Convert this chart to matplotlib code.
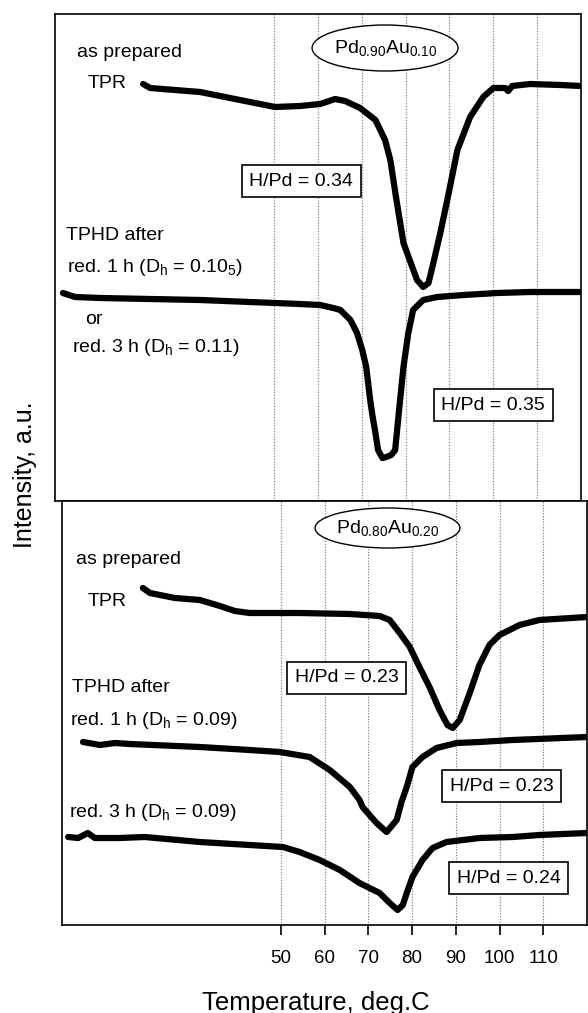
import numpy as np
import matplotlib.pyplot as plt
from matplotlib.patches import Ellipse

plt.rcParams['font.family'] = ['Liberation Sans', 'DejaVu Sans']
plt.rcParams['mathtext.fontset'] = 'custom'
plt.rcParams['mathtext.rm'] = 'Liberation Sans'
plt.rcParams['mathtext.it'] = 'Liberation Sans:italic'

# Pd0.90Au0.10 : TPR of the as-prepared sample
t_tpr_10 = [20.1, 21.7, 33.1, 42.2, 50.2, 55.9, 60.5, 63.9, 66.2, 69.6, 73.1, 75.3, 76.5, 77.2,
            77.9, 79.5, 81.5, 82.6, 84.0, 85.2, 86.1, 87.9, 89.5, 91.8, 94.7, 97.7, 100.0,
            102.7, 103.4, 104.3, 108.4, 115.3, 120.0]
i_tpr_10 = [4.17, 4.13, 4.09, 4.01, 3.94, 3.95, 3.97, 4.02, 4.00, 3.93, 3.81, 3.61, 3.41, 3.21,
            3.01, 2.58, 2.34, 2.21, 2.14, 2.18, 2.34, 2.68, 3.01, 3.51, 3.84, 4.04, 4.13,
            4.13, 4.10, 4.15, 4.17, 4.16, 4.15]

# Pd0.90Au0.10 : TPHD after reduction
t_tphd_10 = [1.8, 4.6, 10.3, 21.7, 33.1, 44.5, 50.2, 55.9, 60.5, 63.5, 65.1, 67.4, 68.9, 70.1,
             71.0, 71.9, 72.4, 73.1, 73.7, 74.7, 75.6, 76.7, 77.6, 78.5, 79.5, 80.6, 81.7,
             84.0, 87.2, 93.2, 100.9, 108.4, 120.0]
i_tphd_10 = [2.08, 2.04, 2.03, 2.02, 2.01, 1.99, 1.98, 1.97, 1.96, 1.93, 1.91, 1.81, 1.68, 1.51,
             1.34, 1.01, 0.86, 0.68, 0.51, 0.43, 0.44, 0.46, 0.51, 0.91, 1.34, 1.68, 1.91,
             2.01, 2.04, 2.06, 2.08, 2.09, 2.09]

# Pd0.80Au0.20 : TPR of the as-prepared sample
t_tpr_20 = [18.5, 20.1, 25.8, 31.5, 36.1, 39.5, 42.9, 54.3, 65.8, 72.6, 74.9, 77.2, 79.5, 81.7,
            84.0, 86.3, 88.1, 89.3, 90.9, 93.2, 95.4, 97.7, 100.0, 104.6, 109.1, 120.0]
i_tpr_20 = [3.37, 3.32, 3.27, 3.25, 3.19, 3.14, 3.12, 3.12, 3.11, 3.09, 3.05, 2.92, 2.78, 2.58,
            2.38, 2.15, 2.00, 1.97, 2.05, 2.32, 2.60, 2.80, 2.90, 3.00, 3.05, 3.08]

# Pd0.80Au0.20 : TPHD after 1 h reduction
t_tphd1_20 = [4.8, 8.7, 12.1, 15.5, 31.5, 42.9, 49.8, 56.6, 61.2, 65.8, 68.0, 68.7, 71.9, 74.2,
              76.5, 77.6, 78.8, 80.1, 82.4, 85.6, 90.2, 95.4, 103.0, 120.0]
i_tphd1_20 = [1.83, 1.80, 1.82, 1.81, 1.78, 1.75, 1.73, 1.68, 1.55, 1.38, 1.25, 1.18, 1.02, 0.93,
              1.05, 1.23, 1.38, 1.58, 1.68, 1.77, 1.82, 1.83, 1.85, 1.88]

# Pd0.80Au0.20 : TPHD after 3 h reduction
t_tphd3_20 = [1.4, 3.7, 5.9, 7.5, 13.2, 18.9, 31.5, 42.9, 50.5, 54.3, 58.9, 63.5, 68.0, 72.6,
              74.9, 76.7, 77.9, 78.8, 80.1, 82.4, 84.7, 87.9, 95.4, 103.0, 109.1, 120.0]
i_tphd3_20 = [0.88, 0.87, 0.92, 0.87, 0.87, 0.88, 0.83, 0.80, 0.78, 0.73, 0.65, 0.55, 0.42, 0.32,
              0.22, 0.15, 0.20, 0.32, 0.48, 0.65, 0.77, 0.83, 0.87, 0.88, 0.90, 0.92]

ticks = [50, 60, 70, 80, 90, 100, 110]

fig = plt.figure(figsize=(5.88, 10.13), dpi=100)
ax1 = fig.add_axes([55/588, 1 - 501/1013, 526/588, 487/1013])
ax2 = fig.add_axes([62/588, 1 - 925/1013, 525/588, 424/1013])

curve = dict(color='black', lw=4.5, solid_capstyle='round', solid_joinstyle='round')
ax1.plot(t_tpr_10, i_tpr_10, **curve)
ax1.plot(t_tphd_10, i_tphd_10, **curve)
ax2.plot(t_tpr_20, i_tpr_20, **curve)
ax2.plot(t_tphd1_20, i_tphd1_20, **curve)
ax2.plot(t_tphd3_20, i_tphd3_20, **curve)

ax1.set_ylim(0, 4.87)
ax2.set_ylim(0, 4.24)
for ax in (ax1, ax2):
    ax.set_xlim(0, 120)
    ax.set_xticks(ticks)
    ax.set_yticks([])
    ax.grid(axis='x', color='0.45', linestyle=(0, (1, 1.5)), lw=0.8)
    ax.set_axisbelow(True)
    for s in ax.spines.values():
        s.set_linewidth(1.2)
ax1.tick_params(axis='x', length=0, labelbottom=False)
ax2.tick_params(axis='x', direction='out', length=7, width=1.2, pad=11, labelsize=13.5)

fs = 14
box = dict(boxstyle='square,pad=0.4', fc='white', ec='black', lw=1.2)

def alloy(ax, x, y, w, h, label):
    ax.add_patch(Ellipse((x, y), w, h, fc='white', ec='black', lw=1.0, zorder=3))
    ax.text(x, y, label, ha='center', va='center', fontsize=fs, zorder=4)

# upper panel texts
alloy(ax1, 75.3, 4.53, 33.3, 0.46, 'Pd$_\\mathrm{0.90}$Au$_\\mathrm{0.10}$')
ax1.text(5.0, 4.48, 'as prepared', fontsize=fs, va='center')
ax1.text(7.5, 4.18, 'TPR', fontsize=fs, va='center')
ax1.text(2.5, 2.65, 'TPHD after', fontsize=fs, va='center')
ax1.text(2.7, 2.33, 'red. 1 h (D$_\\mathrm{h}$ = 0.10$_\\mathrm{5}$)', fontsize=fs, va='center')
ax1.text(6.8, 1.81, 'or', fontsize=fs, va='center')
ax1.text(3.9, 1.54, 'red. 3 h (D$_\\mathrm{h}$ = 0.11)', fontsize=fs, va='center')
ax1.text(56.2, 3.20, 'H/Pd = 0.34', fontsize=fs, ha='center', va='center', bbox=box, zorder=4)
ax1.text(100.0, 0.96, 'H/Pd = 0.35', fontsize=fs, ha='center', va='center', bbox=box, zorder=4)

# lower panel texts
alloy(ax2, 74.4, 3.97, 33.1, 0.40, 'Pd$_\\mathrm{0.80}$Au$_\\mathrm{0.20}$')
ax2.text(3.2, 3.65, 'as prepared', fontsize=fs, va='center')
ax2.text(5.9, 3.24, 'TPR', fontsize=fs, va='center')
ax2.text(2.3, 2.37, 'TPHD after', fontsize=fs, va='center')
ax2.text(1.8, 2.05, 'red. 1 h (D$_\\mathrm{h}$ = 0.09)', fontsize=fs, va='center')
ax2.text(1.6, 1.13, 'red. 3 h (D$_\\mathrm{h}$ = 0.09)', fontsize=fs, va='center')
ax2.text(65.1, 2.47, 'H/Pd = 0.23', fontsize=fs, ha='center', va='center', bbox=box, zorder=4)
ax2.text(100.5, 1.39, 'H/Pd = 0.23', fontsize=fs, ha='center', va='center', bbox=box, zorder=4)
ax2.text(102.1, 0.47, 'H/Pd = 0.24', fontsize=fs, ha='center', va='center', bbox=box, zorder=4)

fig.text(25/588, 1 - 475/1013, 'Intensity, a.u.', rotation=90, fontsize=18,
         ha='center', va='center')
fig.text(316/588, 1 - 1010/1013, 'Temperature, deg.C', fontsize=18.5,
         ha='center', va='baseline')

fig.savefig('out.png', dpi=100)
